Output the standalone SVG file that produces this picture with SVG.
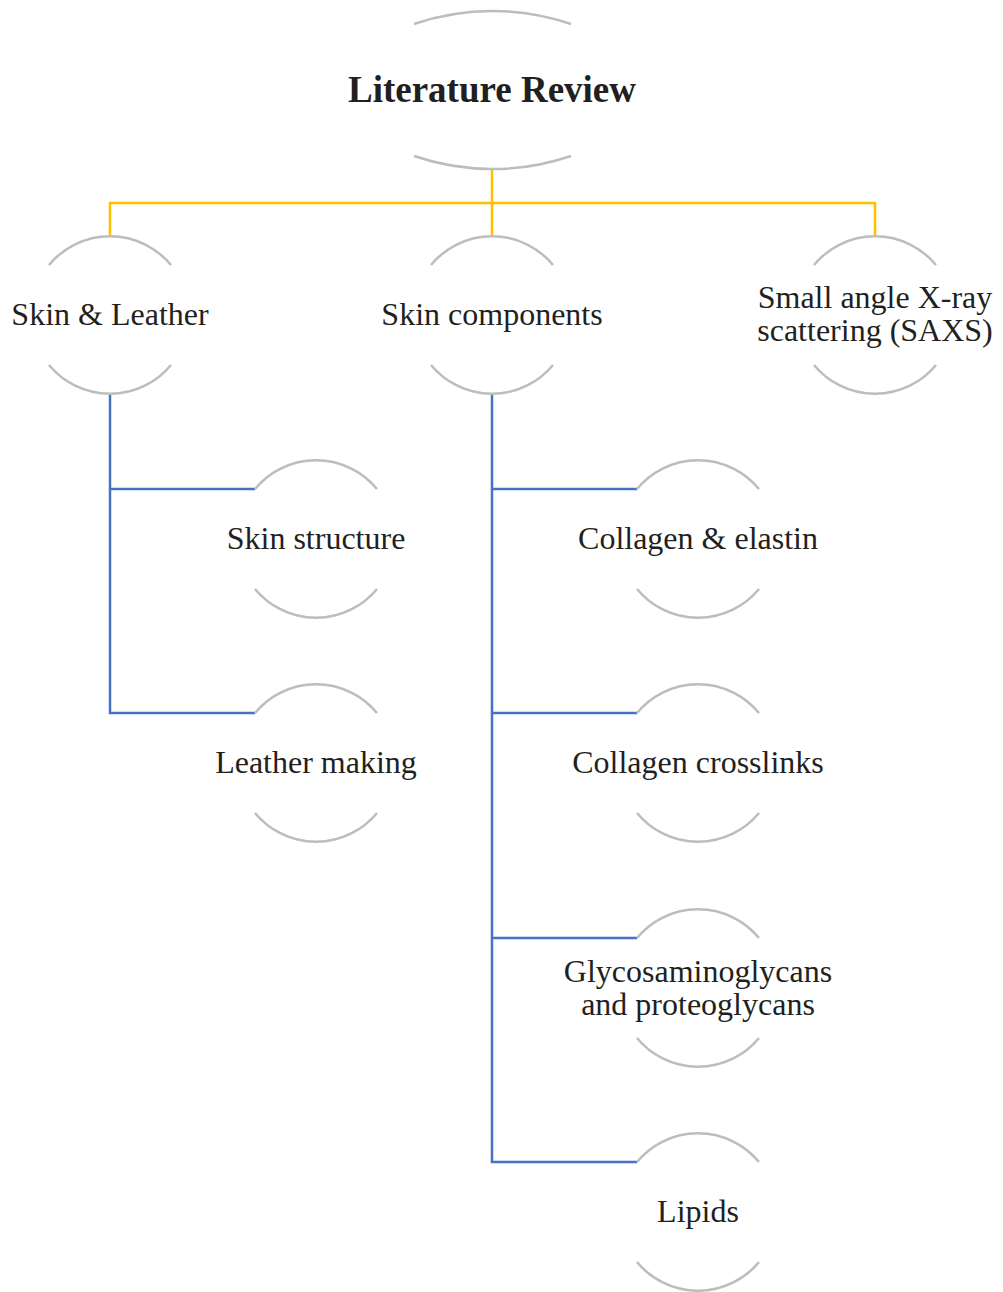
<svg xmlns="http://www.w3.org/2000/svg" width="1003" height="1292" viewBox="0 0 1003 1292">
  <defs>
    <style>
      .arc { fill: none; stroke: #BDBDBD; stroke-width: 2.5; }
      .lbl { font-family: "Liberation Serif", "Times New Roman", serif; font-size: 32px; fill: #231F20; text-anchor: middle; }
      .title { font-family: "Liberation Serif", "Times New Roman", serif; font-size: 37px; font-weight: bold; fill: #231F20; text-anchor: middle; }
      .yel { fill: none; stroke: #FFC000; stroke-width: 2.5; }
      .blu { fill: none; stroke: #4472C4; stroke-width: 2.5; }
    </style>
    <!-- pair of arcs on a circle of radius 79, centred on the origin -->
    <g id="ring">
      <path class="arc" d="M-61,-50 A79,79 0 0 1 61,-50"/>
      <path class="arc" d="M-61,50 A79,79 0 0 0 61,50"/>
    </g>
  </defs>

  <rect width="1003" height="1292" fill="#FFFFFF"/>

  <!-- connectors -->
  <g id="connectors">
    <path class="yel" d="M492,169 V203 M110,236 V203 H875 V236 M492,203 V236"/>
    <path class="blu" d="M110,395 V713 H255 M110,489 H255"/>
    <path class="blu" d="M492,395 V1162 H637 M492,489 H637 M492,713 H637 M492,938 H637"/>
  </g>

  <!-- root -->
  <g id="literature-review">
    <path class="arc" d="M414,24 A243,243 0 0 1 571,24"/>
    <path class="arc" d="M414,156 A243,243 0 0 0 571,156"/>
    <text class="title" x="492" y="102">Literature Review</text>
  </g>

  <!-- first level -->
  <g id="skin-leather" transform="translate(110,315)">
    <use href="#ring"/>
    <text class="lbl" x="0" y="10">Skin &amp; Leather</text>
  </g>
  <g id="skin-components" transform="translate(492,315)">
    <use href="#ring"/>
    <text class="lbl" x="0" y="10">Skin components</text>
  </g>
  <g id="saxs" transform="translate(875,315)">
    <use href="#ring"/>
    <text class="lbl" x="0" y="-7">Small angle X-ray</text>
    <text class="lbl" x="0" y="26">scattering (SAXS)</text>
  </g>

  <!-- second level, left -->
  <g id="skin-structure" transform="translate(316,539)">
    <use href="#ring"/>
    <text class="lbl" x="0" y="10">Skin structure</text>
  </g>
  <g id="leather-making" transform="translate(316,763)">
    <use href="#ring"/>
    <text class="lbl" x="0" y="10">Leather making</text>
  </g>

  <!-- second level, right -->
  <g id="collagen-elastin" transform="translate(698,539)">
    <use href="#ring"/>
    <text class="lbl" x="0" y="10">Collagen &amp; elastin</text>
  </g>
  <g id="collagen-crosslinks" transform="translate(698,763)">
    <use href="#ring"/>
    <text class="lbl" x="0" y="10">Collagen crosslinks</text>
  </g>
  <g id="gags" transform="translate(698,988)">
    <use href="#ring"/>
    <text class="lbl" x="0" y="-6">Glycosaminoglycans</text>
    <text class="lbl" x="0" y="27">and proteoglycans</text>
  </g>
  <g id="lipids" transform="translate(698,1212)">
    <use href="#ring"/>
    <text class="lbl" x="0" y="10">Lipids</text>
  </g>
</svg>
